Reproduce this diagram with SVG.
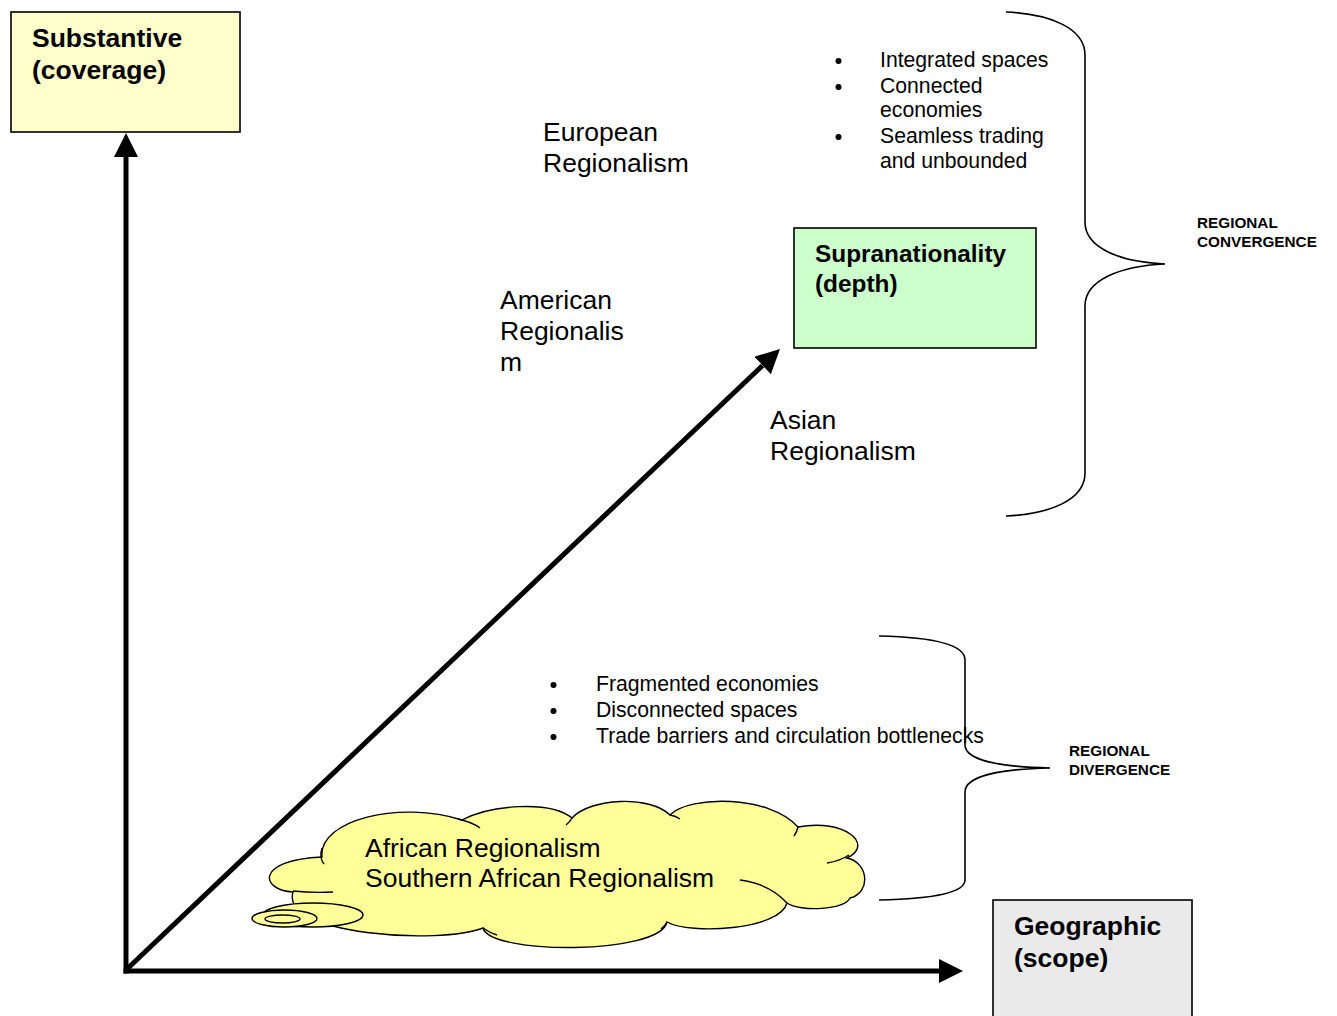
<svg xmlns="http://www.w3.org/2000/svg" width="1337" height="1016" viewBox="0 0 1337 1016">
<style>
text{font-family:"Liberation Sans",Arial,sans-serif;fill:#000}
.b{font-weight:bold}
.t26{font-size:26.5px}
.t24{font-size:24.4px}
.t21{font-size:21.2px}
.t15{font-size:15.3px}
.box{stroke:#000;stroke-width:1.6}
.ax{stroke:#000;stroke-width:5;fill:none}
.br{stroke:#000;stroke-width:1.6;fill:none}
.cl{stroke:#000;stroke-width:1.4}
</style>
<defs>
<marker id="ah" viewBox="0 -12 24 24" refX="0" refY="0" markerWidth="24" markerHeight="24" markerUnits="userSpaceOnUse" orient="auto">
<path d="M0,-12 L24,0 L0,12 z" fill="#000"/>
</marker>
</defs>
<rect width="1337" height="1016" fill="#fff"/>

<g id="connectors">
<line class="ax" x1="126" y1="973.5" x2="126" y2="157" marker-end="url(#ah)"/>
<line class="ax" x1="123.5" y1="971" x2="939" y2="971" marker-end="url(#ah)"/>
<line class="ax" x1="126" y1="970" x2="762.6" y2="365.5" marker-end="url(#ah)"/>
</g>

<g id="node-substantive">
<rect class="box" x="11" y="12" width="229" height="120" fill="#FFFFCC"/>
<text class="b t26" x="32" y="47">Substantive</text>
<text class="b t26" x="32" y="79">(coverage)</text>
</g>

<g id="node-supranationality">
<rect class="box" x="794" y="228" width="242" height="120" fill="#CCFFCC"/>
<text class="b t24" x="815" y="262">Supranationality</text>
<text class="b t24" x="815" y="292">(depth)</text>
</g>

<g id="node-geographic">
<rect class="box" x="993" y="900" width="199" height="125" fill="#EAEAEA"/>
<text class="b t26" x="1014" y="935">Geographic</text>
<text class="b t26" x="1014" y="967">(scope)</text>
</g>

<g id="label-european">
<text class="t26" x="543" y="141">European</text>
<text class="t26" x="543" y="172">Regionalism</text>
</g>

<g id="label-american">
<text class="t26" x="500" y="309">American</text>
<text class="t26" x="500" y="340">Regionalis</text>
<text class="t26" x="500" y="371">m</text>
</g>

<g id="label-asian">
<text class="t26" x="770" y="429">Asian</text>
<text class="t26" x="770" y="460">Regionalism</text>
</g>

<g id="convergence-list">
<circle cx="838.5" cy="61" r="3"/>
<circle cx="838.5" cy="87" r="3"/>
<circle cx="838.5" cy="137" r="3"/>
<text class="t21" x="880" y="67">Integrated spaces</text>
<text class="t21" x="880" y="93">Connected</text>
<text class="t21" x="880" y="117">economies</text>
<text class="t21" x="880" y="143">Seamless trading</text>
<text class="t21" x="880" y="168">and unbounded</text>
</g>

<g id="divergence-list">
<circle cx="553.5" cy="685" r="3"/>
<circle cx="553.5" cy="711" r="3"/>
<circle cx="553.5" cy="737" r="3"/>
<text class="t21" x="596" y="691">Fragmented economies</text>
<text class="t21" x="596" y="717">Disconnected spaces</text>
<text class="t21" x="596" y="743">Trade barriers and circulation bottlenecks</text>
</g>

<g id="brace-convergence">
<path class="br" d="M1006,12 C1050,14 1085,28 1085,55 L1085,222 C1085,248 1120,262 1165,264 C1120,266 1085,280 1085,306 L1085,473 C1085,500 1050,514 1006,516"/>
<text class="b t15" x="1197" y="228">REGIONAL</text>
<text class="b t15" x="1197" y="247">CONVERGENCE</text>
</g>

<g id="brace-divergence">
<path class="br" d="M879,636 C925,637 965,643 965,660 L965,745 C965,760 1000,767 1050,768 C1000,769 965,776 965,792 L965,880 C965,894 925,899 879,900"/>
<text class="b t15" x="1069" y="756">REGIONAL</text>
<text class="b t15" x="1069" y="775">DIVERGENCE</text>
</g>

<g id="node-african-cloud">
<path class="cl" fill="#FFFF99" d="M322,857 C318,820 400,800 462,820 C490,805 550,800 572,818 C590,798 650,795 670,815 C690,795 770,795 798,827 C845,818 875,845 847,858 C868,862 872,892 850,898 C845,910 800,912 787,903 C780,930 690,935 667,922 C660,955 490,955 483,928 C440,945 280,935 293,892 C260,890 255,860 322,857 Z"/>
<path class="cl" fill="none" d="M324,864 Q319,858 322,848"/>
<path class="cl" fill="none" d="M293,891 Q312,893 333,892"/>
<path class="cl" fill="none" d="M458,819 Q472,822 480,828"/>
<path class="cl" fill="none" d="M572,818 Q570,822 566,825"/>
<path class="cl" fill="none" d="M670,815 Q676,816 680,819"/>
<path class="cl" fill="none" d="M798,827 Q797,832 794,836"/>
<path class="cl" fill="none" d="M827,863 Q840,861 849,855"/>
<path class="cl" fill="none" d="M740,880 Q770,884 787,903"/>
<path class="cl" fill="none" d="M667,922 Q665,926 661,929"/>
<path class="cl" fill="none" d="M483,928 Q490,933 497,935"/>
<ellipse class="cl" cx="313" cy="915" rx="50" ry="12" fill="#FFFF99"/>
<ellipse class="cl" cx="284.5" cy="918.5" rx="32.5" ry="8.5" fill="#FFFF99"/>
<ellipse class="cl" cx="282.5" cy="919" rx="17.5" ry="4" fill="#FFFF99"/>
<text class="t26" x="365" y="857">African Regionalism</text>
<text class="t26" x="365" y="887">Southern African Regionalism</text>
</g>
</svg>
